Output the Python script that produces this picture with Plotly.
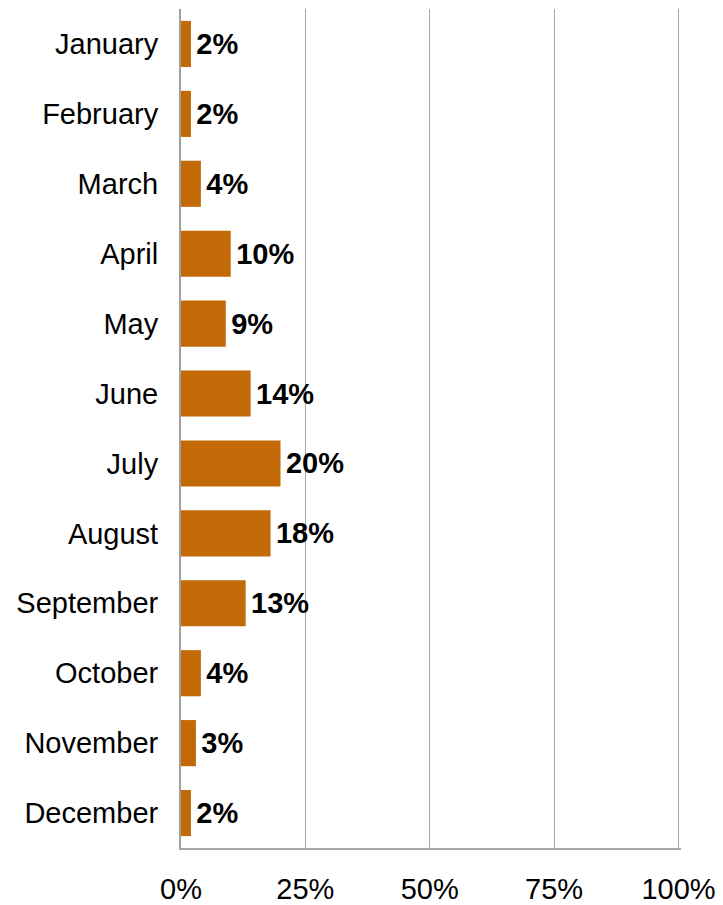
import plotly.graph_objects as go

months = ["January", "February", "March", "April", "May", "June",
          "July", "August", "September", "October", "November", "December"]
share_pct = [2, 2, 4, 10, 9, 14, 20, 18, 13, 4, 3, 2]
x_ticks = [0, 25, 50, 75, 100]

fig = go.Figure()

fig.add_trace(
    go.Bar(y=months, x=share_pct, orientation='h',
           marker=dict(color='#C26A08', line=dict(width=0)),
           text=[f"\u200a{v}%" for v in share_pct], textposition='outside',
           textfont=dict(family='Arial, Liberation Sans', size=29, color='black'),
           texttemplate='<b>%{text}</b>', cliponaxis=False)
)

# page body has an 8px default margin, so the figure is shrunk to fit
fig.update_layout(
    width=715, height=897,
    margin=dict(l=173, r=42, t=1, b=57),
    plot_bgcolor='white', paper_bgcolor='white',
    font=dict(family='Arial, Liberation Sans', size=29, color='black'),
    bargap=0.34, showlegend=False,
)
# range a bit past 100 so plotly keeps the 100% gridline
fig.update_xaxes(range=[0, 100.5], tickvals=x_ticks,
                 ticktext=[f"{v}%" for v in x_ticks],
                 showgrid=True, gridcolor='#A6A6A6', gridwidth=1,
                 showline=True, linecolor='#A6A6A6', linewidth=1.5,
                 zeroline=False, ticks='', ticklabelstandoff=14,
                 automargin=False)
fig.update_yaxes(autorange='reversed', showgrid=False,
                 showline=True, linecolor='#A0A0A0', linewidth=2,
                 ticks='', ticklabelstandoff=15, automargin=False)

fig.write_html("out.html")
